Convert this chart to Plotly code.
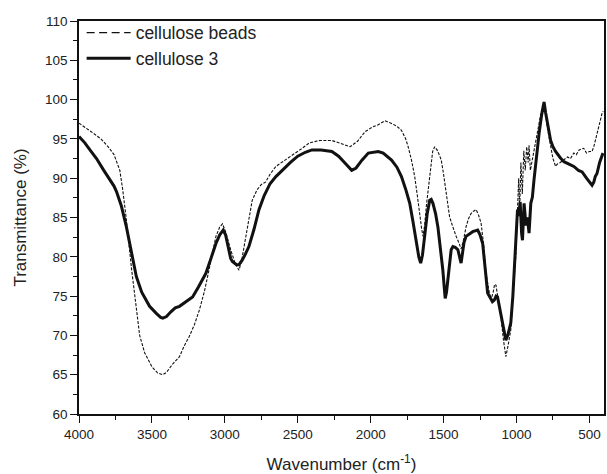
import plotly.graph_objects as go

# FTIR transmittance spectra (wavenumber in cm^-1, transmittance in %)
beads_wn = [4000, 3950, 3900, 3850, 3800, 3760, 3743, 3720, 3700, 3675, 3640, 3600, 3584,
            3550, 3500, 3460, 3425, 3400, 3360, 3311, 3280, 3243, 3210, 3175, 3140, 3118,
            3090, 3061, 3035, 3016, 2995, 2975, 2960, 2930, 2903, 2885, 2865, 2846, 2830,
            2812, 2780, 2750, 2721, 2690, 2650, 2585, 2530, 2470, 2420, 2350, 2266, 2200,
            2141, 2090, 2039, 1990, 1948, 1902, 1860, 1820, 1789, 1760, 1743, 1720, 1698,
            1680, 1663, 1650, 1641, 1630, 1618, 1607, 1590, 1575, 1561, 1545, 1530, 1516,
            1500, 1482, 1470, 1459, 1440, 1425, 1414, 1395, 1380, 1365, 1346, 1330, 1312,
            1295, 1277, 1260, 1243, 1225, 1209, 1190, 1175, 1160, 1150, 1141, 1125, 1107,
            1090, 1080, 1073, 1060, 1050, 1039, 1025, 1010, 1005, 995, 985, 978, 970, 960,
            950, 940, 930, 920, 914, 905, 895, 880, 860, 845, 825, 811, 800, 789, 775, 766,
            750, 732, 720, 700, 675, 650, 630, 607, 590, 570, 539, 520, 500, 482, 470, 460,
            448, 430, 414, 405]
beads_t = [97.0, 96.4, 95.7, 95.0, 94.0, 93.0, 92.1, 91.0, 88.5, 84.7, 78.5, 72.5, 70.0,
           67.8, 66.0, 65.2, 65.0, 65.3, 66.3, 67.3, 68.6, 69.9, 71.3, 73.2, 75.6, 77.5,
           80.0, 82.6, 83.8, 84.2, 83.2, 81.8, 80.9, 79.2, 78.3, 79.5, 81.5, 83.4, 85.5,
           87.2, 88.5, 89.2, 89.5, 90.5, 91.5, 92.3, 93.0, 93.8, 94.5, 94.8, 94.8, 94.4,
           94.0, 94.7, 95.9, 96.5, 96.8, 97.3, 97.0, 96.6, 96.1, 95.0, 94.0, 92.3, 90.2,
           87.8, 85.1, 83.5, 82.6, 84.0, 86.5, 88.5, 91.5, 93.4, 94.0, 93.6, 93.0, 92.3,
           90.5, 88.0, 86.0, 85.1, 84.0, 83.0, 82.6, 81.8, 81.0, 82.0, 83.8, 84.8, 85.5,
           85.8, 86.0, 85.3, 84.3, 81.5, 77.9, 75.8, 74.5, 75.5, 76.5, 76.4, 74.5, 72.4,
           69.5, 67.8, 67.3, 68.5, 69.8, 70.7, 75.0, 79.5, 80.0, 85.0, 90.0, 86.0, 92.0, 88.0,
           93.5, 91.0, 94.0, 92.0, 94.2, 91.0, 92.0, 93.5, 96.0, 97.5, 99.0, 99.7, 98.0, 96.5,
           95.0, 94.0, 92.5, 91.5, 91.8, 92.0, 92.3, 92.7, 92.5, 93.2, 93.0, 93.6, 93.8, 93.2,
           93.4, 93.4, 94.0, 94.8, 95.7, 97.0, 98.2, 98.5]

c3_wn = [4000, 3960, 3925, 3880, 3830, 3790, 3760, 3743, 3710, 3675, 3640, 3607, 3570,
         3540, 3516, 3470, 3440, 3425, 3400, 3370, 3340, 3311, 3270, 3221, 3180, 3130,
         3095, 3061, 3035, 3011, 2995, 2975, 2960, 2948, 2920, 2903, 2880, 2860, 2835,
         2800, 2766, 2730, 2690, 2650, 2607, 2550, 2500, 2448, 2403, 2340, 2266, 2220,
         2170, 2130, 2100, 2060, 2016, 1980, 1948, 1914, 1885, 1857, 1820, 1789, 1760,
         1732, 1710, 1686, 1670, 1657, 1645, 1630, 1612, 1595, 1585, 1573, 1555, 1539,
         1520, 1505, 1495, 1489, 1480, 1470, 1460, 1448, 1436, 1420, 1402, 1390, 1380,
         1370, 1360, 1346, 1320, 1300, 1266, 1250, 1232, 1215, 1198, 1180, 1165, 1152,
         1140, 1130, 1110, 1095, 1080, 1073, 1060, 1050, 1039, 1025, 1016, 1005, 993, 985,
         975, 965, 959, 948, 935, 925, 914, 902, 891, 880, 862, 845, 828, 811, 800, 789,
         778, 766, 750, 732, 700, 675, 640, 607, 575, 550, 520, 495, 482, 470, 460, 448,
         430, 407]
c3_t = [95.3, 94.5, 93.6, 92.5, 91.0, 89.8, 89.0, 88.3, 86.5, 83.8, 80.5, 77.5, 75.5,
        74.5, 73.7, 72.8, 72.3, 72.2, 72.4, 73.0, 73.5, 73.7, 74.2, 74.9, 76.2, 77.9,
        79.8, 81.7, 82.8, 83.4, 82.8, 81.0, 79.8, 79.4, 79.0, 79.0, 79.6, 80.3, 81.3,
        83.5, 86.0, 87.8, 89.3, 90.2, 91.0, 92.0, 92.8, 93.3, 93.6, 93.6, 93.4, 92.8,
        91.8, 91.0, 91.3, 92.3, 93.2, 93.3, 93.4, 93.2, 92.8, 92.3, 91.4, 90.2, 88.6,
        86.8, 84.5, 81.7, 80.0, 79.2, 80.2, 82.6, 85.5, 87.2, 87.3, 86.8, 85.5, 83.8,
        81.0, 78.3, 76.0, 74.7, 75.5, 77.5, 79.5, 80.9, 81.3, 81.2, 80.9, 80.0, 79.2,
        80.5, 81.8, 82.6, 83.0, 83.2, 83.4, 82.8, 81.7, 78.5, 75.4, 74.8, 74.3, 74.5,
        75.0, 74.9, 73.0, 71.6, 70.0, 69.4, 70.0, 70.8, 71.6, 75.0, 77.9, 82.0, 86.0, 85.2,
        87.0, 83.0, 82.1, 86.8, 84.0, 85.0, 83.0, 86.8, 87.6, 89.8, 93.0, 95.7, 98.0, 99.7,
        98.3, 97.0, 95.8, 94.8, 94.0, 93.4, 92.6, 92.1, 91.8, 91.5, 91.0, 90.8, 90.0, 89.3,
        89.1, 89.5, 90.2, 90.6, 92.0, 93.2]

x_ticks = [4000, 3500, 3000, 2500, 2000, 1500, 1000, 500]
y_ticks = [60, 65, 70, 75, 80, 85, 90, 95, 100, 105, 110]

FONT = "Liberation Sans, Arial, sans-serif"
INK = "#111111"

fig = go.Figure()

# cellulose beads: thin dashed spectrum
fig.add_trace(go.Scatter(
    x=beads_wn, y=beads_t, mode="lines", name="cellulose beads",
    line=dict(color=INK, width=1.1, dash="3px,1.5px"), showlegend=False))
# legend entry drawn with longer dashes
fig.add_trace(go.Scatter(
    x=[None], y=[None], mode="lines", name="cellulose beads",
    line=dict(color=INK, width=1.4, dash="8px,4.5px")))
# cellulose 3: thick solid spectrum
fig.add_trace(go.Scatter(
    x=c3_wn, y=c3_t, mode="lines", name="cellulose 3",
    line=dict(color=INK, width=3.0)))

axis_common = dict(
    showline=True, linecolor=INK, linewidth=1.5, mirror=True,
    ticks="outside", tickcolor=INK, tickwidth=1.3,
    showgrid=False, zeroline=False,
    tickfont=dict(family=FONT, size=13.5, color="#222222"),
)

fig.update_xaxes(
    range=[4000, 400], tickvals=x_ticks, ticklen=7,
    minor=dict(dtick=250, ticks="outside", ticklen=4, tickcolor=INK, tickwidth=1.3),
    title=dict(text="Wavenumber (cm<sup>-1</sup>)", standoff=17,
               font=dict(family=FONT, size=17, color="#222222")),
    **axis_common)
fig.update_yaxes(
    range=[60, 110], tickvals=y_ticks, ticklen=7,
    minor=dict(dtick=2.5, ticks="outside", ticklen=4, tickcolor=INK, tickwidth=1.3),
    title=dict(text="Transmittance (%)", standoff=14,
               font=dict(family=FONT, size=17, color="#222222")),
    **axis_common)

fig.update_layout(
    width=607, height=474,
    margin=dict(l=79, r=1, t=21, b=60),
    paper_bgcolor="white", plot_bgcolor="white",
    font=dict(family=FONT, color="#222222"),
    legend=dict(x=0.005, y=1.016, xanchor="left", yanchor="top",
                bgcolor="rgba(0,0,0,0)", itemwidth=44, tracegroupgap=0,
                font=dict(family=FONT, size=17.5, color="#222222")),
)

fig.write_html("out.html")
